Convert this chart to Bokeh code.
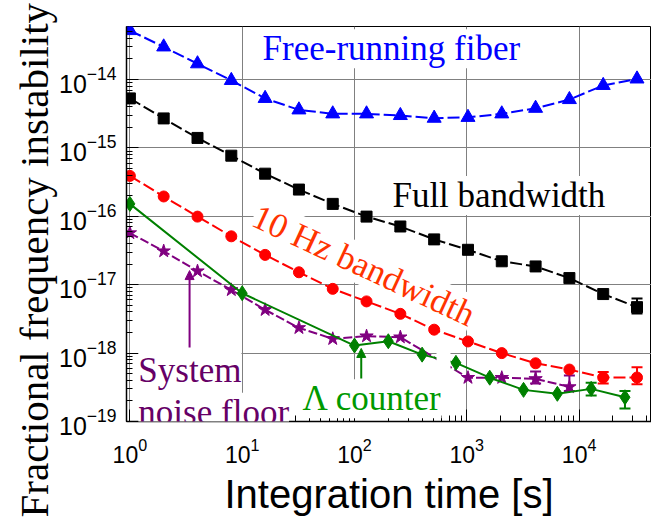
from bokeh.plotting import figure
from bokeh.models import (Range1d, LogTicker, Label, Arrow, NormalHead, Title,
                          Whisker, TeeHead, ColumnDataSource, BoxAnnotation)
from bokeh.embed import file_html
from bokeh.resources import INLINE

# ---------------- data ----------------
tau = [1, 2, 4, 8, 16, 32, 64, 128, 256, 512, 1024, 2048, 4096, 8192, 16384, 32768]
free_running = [5.2e-14, 3.0e-14, 1.7e-14, 9.7e-15, 5.3e-15, 3.6e-15, 3.15e-15, 3.15e-15,
                2.98e-15, 2.72e-15, 2.8e-15, 3.15e-15, 3.8e-15, 5.1e-15, 8.2e-15, 1.02e-14]
full_bw = [5.3e-15, 2.7e-15, 1.4e-15, 7.7e-16, 4.2e-16, 2.46e-16, 1.52e-16, 9.9e-17,
           7.1e-17, 4.6e-17, 3.24e-17, 2.2e-17, 1.85e-17, 1.25e-17, 7.3e-18, 4.7e-18]
bw10 = [3.9e-16, 1.95e-16, 9.9e-17, 5.1e-17, 2.73e-17, 1.52e-17, 8.7e-18, 5.7e-18,
        3.75e-18, 2.2e-18, 1.48e-18, 1.0e-18, 7.1e-19, 5.75e-19, 4.4e-19, 4.4e-19]
lam_tau = [1, 10, 100, 200, 400, 800, 1600, 3200, 6400, 12800, 25600]
lam = [1.52e-16, 7.5e-18, 1.29e-18, 1.49e-18, 9.5e-19, 7.2e-19, 4.37e-19, 2.9e-19,
       2.54e-19, 3.0e-19, 2.26e-19]
floor_tau = [1, 2, 4, 8, 16, 32, 64, 128, 256, 1024, 2048, 4096, 8192]
floor = [5.7e-17, 3.1e-17, 1.58e-17, 8.4e-18, 4.3e-18, 2.34e-18, 1.62e-18, 1.77e-18,
         1.71e-18, 4.37e-19, 4.37e-19, 4.2e-19, 3.2e-19]

# error bars (tau, lower, upper)
err_full = ([32768], [3.8e-18], [6.3e-18])
err_bw10 = ([16384, 32768], [3.6e-19, 3.5e-19], [5.3e-19, 6.2e-19])
err_lam = ([12800, 25600], [2.4e-19, 1.55e-19], [3.7e-19, 2.8e-19])
err_floor = ([4096, 8192], [3.6e-19, 2.8e-19], [5.4e-19, 4.7e-19])

x_lim = (0.933, 44100)
y_lim = (1e-19, 5.96e-14)

BLUE, BLACK, RED, GREEN, PURPLE = "#0000FF", "#000000", "#FF0000", "#008000", "#800080"
SERIF, SANS = "Liberation Serif", "Liberation Sans"

p = figure(width=651, height=520, x_axis_type="log", y_axis_type="log",
           x_range=Range1d(*x_lim), y_range=Range1d(*y_lim),
           output_backend="svg", toolbar_location=None,
           min_border_left=126, min_border_right=0, min_border_top=26, min_border_bottom=99)
p.background_fill_color = "white"
p.border_fill_color = "white"
p.outline_line_color = "black"
p.outline_line_width = 1

for ax in (p.xaxis[0], p.yaxis[0]):
    ax.axis_line_color = "black"
    ax.axis_line_width = 1.5
    ax.major_tick_in = 12
    ax.major_tick_out = 0
    ax.minor_tick_in = 6
    ax.minor_tick_out = 0
    ax.major_tick_line_color = "black"
    ax.minor_tick_line_color = "black"
    ax.major_label_text_font = SANS
    ax.major_label_text_color = "black"

p.xaxis.ticker = LogTicker(desired_num_ticks=6, num_minor_ticks=10)
p.yaxis.ticker = LogTicker(desired_num_ticks=6, num_minor_ticks=10)
p.xaxis.major_label_text_font_size = "23px"
p.yaxis.major_label_text_font_size = "25px"
p.xaxis.major_label_standoff = 16
p.yaxis.major_label_standoff = 10
p.xaxis.axis_label = "Integration time [s]"
p.xaxis.axis_label_text_font = SANS
p.xaxis.axis_label_text_font_size = "40px"
p.xaxis.axis_label_text_font_style = "normal"
p.xaxis.axis_label_text_color = "black"
p.xaxis.axis_label_standoff = 6

p.grid.grid_line_color = "#808080"
p.grid.grid_line_width = 1
p.grid.minor_grid_line_color = None

# y axis title (placed outside the tick labels, shifted toward the bottom like the original)
p.add_layout(Title(text="Fractional frequency instability", align="left", offset=-96,
                   text_font=SERIF, text_font_size="41px", text_font_style="normal",
                   text_color="black", standoff=0), "left")

# ---------------- series ----------------
p.line(tau, free_running, line_color=BLUE, line_width=2, line_dash="12 4")
p.scatter(tau, free_running, marker="triangle", size=14, fill_color=BLUE, line_color=BLUE)

p.line(tau, full_bw, line_color=BLACK, line_width=2, line_dash="12 4")
p.scatter(tau, full_bw, marker="square", size=11, fill_color=BLACK, line_color=BLACK)

p.line(tau, bw10, line_color=RED, line_width=2, line_dash="12 4")
p.scatter(tau, bw10, marker="circle", size=11, fill_color=RED, line_color=RED)

p.line(floor_tau, floor, line_color=PURPLE, line_width=2, line_dash="9 3")
p.scatter(floor_tau, floor, marker="star", size=14, fill_color=PURPLE, line_color=PURPLE)

p.line(lam_tau, lam, line_color=GREEN, line_width=2)
p.scatter(lam_tau, lam, marker="diamond", size=15, fill_color=GREEN, line_color=GREEN)

# white mask that interrupts the lines between 400 s and 1000 s
p.add_layout(BoxAnnotation(left=537, right=716, bottom=5.2e-19, top=1.26e-18,
                           fill_color="white", fill_alpha=1, line_color=None))

def whiskers(err, color):
    src = ColumnDataSource(dict(x=err[0], lo=err[1], hi=err[2]))
    w = Whisker(source=src, base="x", lower="lo", upper="hi", dimension="height",
                line_color=color, line_width=2,
                lower_head=TeeHead(size=11, line_color=color, line_width=2),
                upper_head=TeeHead(size=11, line_color=color, line_width=2))
    p.add_layout(w)

whiskers(err_full, BLACK)
whiskers(err_bw10, RED)
whiskers(err_lam, GREEN)
whiskers(err_floor, PURPLE)

# ---------------- annotations ----------------
def label(x, y, text, color, size="35px", font=SERIF, angle=0.0, align="left"):
    lab = Label(x=x, y=y, text=text, text_color=color, text_font=font,
                text_font_size=size, angle=angle, text_align=align,
                text_baseline="alphabetic",
                background_fill_color="white", background_fill_alpha=1.0)
    p.add_layout(lab)
    return lab

label(15.2, 2.81e-14, "Free-running fiber", BLUE)
label(217.6, 2.01e-16, "Full bandwidth", BLACK)
label(12.87, 1.06e-16, "10 Hz bandwidth", "#FF3300", angle=-0.436)
label(1.19, 5.57e-19, "System", "#660066")
label(1.19, 1.37e-19, "noise floor", "#660066")
label(34.4, 2.15e-19, "\u039b counter", "#009900")

p.add_layout(Arrow(end=NormalHead(size=9, fill_color="#800080", line_color="#800080"),
                   x_start=3.4, y_start=1.21e-18, x_end=3.4, y_end=1.61e-17,
                   line_color="#800080", line_width=2))
p.add_layout(Arrow(end=NormalHead(size=9, fill_color=GREEN, line_color=GREEN),
                   x_start=114.8, y_start=4.26e-19, x_end=114.8, y_end=1.17e-18,
                   line_color=GREEN, line_width=2))

open("out.html", "w").write(file_html(p, INLINE))
